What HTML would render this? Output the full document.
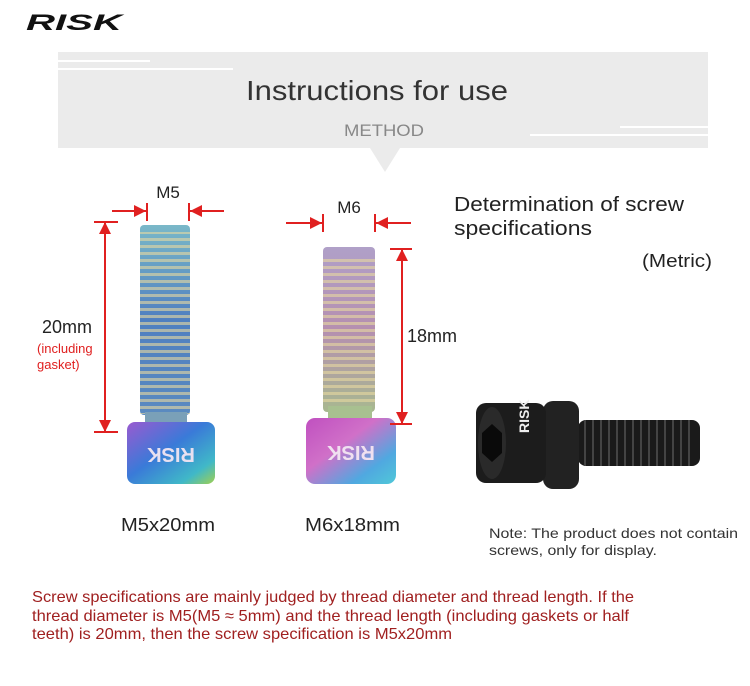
<!DOCTYPE html>
<html><head><meta charset="utf-8"><style>
body{margin:0;background:#fff;}
svg{display:block;font-family:"Liberation Sans",sans-serif;}
</style></head><body>
<svg width="750" height="686" viewBox="0 0 750 686" xmlns="http://www.w3.org/2000/svg">
<defs>
<linearGradient id="thr" x1="0" y1="0" x2="0" y2="1">
<stop offset="0" stop-color="#7ab8c8"/><stop offset="0.5" stop-color="#4f7fc0"/><stop offset="1" stop-color="#5a8ac0"/>
</linearGradient>
<linearGradient id="thr2" x1="0" y1="0" x2="0" y2="1">
<stop offset="0" stop-color="#b0a0c8"/><stop offset="0.5" stop-color="#b58fb0"/><stop offset="1" stop-color="#a8b890"/>
</linearGradient>
<linearGradient id="hd1" x1="0" y1="0" x2="1" y2="1">
<stop offset="0" stop-color="#9a5ad0"/><stop offset="0.45" stop-color="#3a7ad8"/><stop offset="0.8" stop-color="#40b8c8"/><stop offset="1" stop-color="#a0d050"/>
</linearGradient>
<linearGradient id="hd2" x1="0" y1="0" x2="1" y2="1">
<stop offset="0" stop-color="#c050c0"/><stop offset="0.4" stop-color="#d070c8"/><stop offset="0.75" stop-color="#50a8e0"/><stop offset="1" stop-color="#50c8d8"/>
</linearGradient>
<pattern id="ln" width="6" height="7" patternUnits="userSpaceOnUse"><rect width="6" height="3" fill="#e8d8a0" opacity="0.6"/></pattern>
<marker id="ar" viewBox="0 0 10 10" refX="10" refY="5" markerWidth="6" markerHeight="6" orient="auto-start-reverse"><path d="M0,0L10,5L0,10z" fill="#e02020"/></marker>
</defs>
<!-- logo -->
<text x="26" y="30" font-size="22" font-weight="bold" font-style="italic" fill="#111" textLength="96" lengthAdjust="spacingAndGlyphs">RISK</text>
<!-- banner -->
<rect x="58" y="52" width="650" height="96" fill="#ebebeb"/>
<rect x="58" y="60" width="92" height="2" fill="#fff"/>
<rect x="58" y="68" width="175" height="2" fill="#fff"/>
<rect x="620" y="126" width="88" height="2" fill="#fff"/>
<rect x="530" y="134" width="178" height="2" fill="#fff"/>
<path d="M370,148 L400,148 L385,172 Z" fill="#ebebeb"/>
<text x="246" y="100" font-size="28" fill="#333" textLength="262" lengthAdjust="spacingAndGlyphs">Instructions for use</text>
<text x="344" y="136" font-size="17" fill="#888" textLength="80" lengthAdjust="spacingAndGlyphs">METHOD</text>
<!-- M5 screw -->
<rect x="140" y="225" width="50" height="190" rx="4" fill="url(#thr)"/>
<rect x="140" y="232" width="50" height="182" fill="url(#ln)"/>
<rect x="145" y="412" width="42" height="12" fill="#7aa0b8"/>
<rect x="127" y="422" width="88" height="62" rx="8" fill="url(#hd1)"/>
<text x="171" y="462" font-size="20" font-weight="bold" fill="#e8e0f0" text-anchor="middle" transform="rotate(180 171 455)">RISK</text>
<!-- M6 screw -->
<rect x="323" y="247" width="52" height="165" rx="4" fill="url(#thr2)"/>
<rect x="323" y="255" width="52" height="150" fill="url(#ln)"/>
<rect x="328" y="406" width="44" height="14" fill="#a8c090"/>
<rect x="306" y="418" width="90" height="66" rx="9" fill="url(#hd2)"/>
<text x="351" y="460" font-size="20" font-weight="bold" fill="#f0e0f0" text-anchor="middle" transform="rotate(180 351 453)">RISK</text>
<!-- dims -->
<g stroke="#e02020" stroke-width="2" fill="none">
<line x1="112" y1="211" x2="146" y2="211" marker-end="url(#ar)"/>
<line x1="224" y1="211" x2="190" y2="211" marker-end="url(#ar)"/>
<line x1="147" y1="203" x2="147" y2="221"/><line x1="189" y1="203" x2="189" y2="221"/>
<line x1="94" y1="222" x2="118" y2="222"/><line x1="94" y1="432" x2="118" y2="432"/>
<line x1="105" y1="222" x2="105" y2="432" marker-start="url(#ar)" marker-end="url(#ar)"/>
<line x1="286" y1="223" x2="322" y2="223" marker-end="url(#ar)"/>
<line x1="411" y1="223" x2="376" y2="223" marker-end="url(#ar)"/>
<line x1="323" y1="214" x2="323" y2="232"/><line x1="375" y1="214" x2="375" y2="232"/>
<line x1="390" y1="249" x2="412" y2="249"/><line x1="390" y1="424" x2="412" y2="424"/>
<line x1="402" y1="249" x2="402" y2="424" marker-start="url(#ar)" marker-end="url(#ar)"/>
</g>
<text x="168" y="198" font-size="17" fill="#222" text-anchor="middle">M5</text>
<text x="349" y="213" font-size="17" fill="#222" text-anchor="middle">M6</text>
<text x="42" y="333" font-size="18" fill="#222">20mm</text>
<text x="37" y="353" font-size="13" fill="#e02020">(including</text>
<text x="37" y="369" font-size="13" fill="#e02020">gasket)</text>
<text x="407" y="342" font-size="18" fill="#222">18mm</text>
<text x="121" y="531" font-size="18" fill="#222" textLength="94" lengthAdjust="spacingAndGlyphs">M5x20mm</text>
<text x="305" y="531" font-size="18" fill="#222" textLength="95" lengthAdjust="spacingAndGlyphs">M6x18mm</text>
<!-- right text -->
<text x="454" y="211" font-size="20" fill="#222" textLength="230" lengthAdjust="spacingAndGlyphs">Determination of screw</text>
<text x="454" y="235" font-size="20" fill="#222" textLength="138" lengthAdjust="spacingAndGlyphs">specifications</text>
<text x="642" y="267" font-size="18" fill="#222" textLength="70" lengthAdjust="spacingAndGlyphs">(Metric)</text>
<!-- black screw -->
<rect x="578" y="420" width="122" height="46" rx="8" fill="#1a1a1a"/>
<g stroke="#444" stroke-width="2">
<line x1="585" y1="420" x2="585" y2="466"/><line x1="593" y1="420" x2="593" y2="466"/><line x1="601" y1="420" x2="601" y2="466"/><line x1="609" y1="420" x2="609" y2="466"/><line x1="617" y1="420" x2="617" y2="466"/><line x1="625" y1="420" x2="625" y2="466"/><line x1="633" y1="420" x2="633" y2="466"/><line x1="641" y1="420" x2="641" y2="466"/><line x1="649" y1="420" x2="649" y2="466"/><line x1="657" y1="420" x2="657" y2="466"/><line x1="665" y1="420" x2="665" y2="466"/><line x1="673" y1="420" x2="673" y2="466"/><line x1="681" y1="420" x2="681" y2="466"/><line x1="689" y1="420" x2="689" y2="466"/>
</g>
<rect x="543" y="401" width="36" height="88" rx="10" fill="#222"/>
<rect x="476" y="403" width="70" height="80" rx="10" fill="#1c1c1c"/>
<ellipse cx="492" cy="443" rx="14" ry="36" fill="#2a2a2a"/>
<polygon points="492,424 502,433 502,453 492,462 482,453 482,433" fill="#0a0a0a"/>
<text x="522" y="440" font-size="14" font-weight="bold" fill="#eee" transform="rotate(-90 522 433)">RISK</text>
<text x="489" y="538" font-size="14" fill="#333" textLength="249" lengthAdjust="spacingAndGlyphs">Note: The product does not contain</text>
<text x="489" y="555" font-size="14" fill="#333" textLength="168" lengthAdjust="spacingAndGlyphs">screws, only for display.</text>
<!-- bottom text -->
<g font-size="16" fill="#a02020">
<text x="32" y="602" textLength="602" lengthAdjust="spacingAndGlyphs">Screw specifications are mainly judged by thread diameter and thread length. If the</text>
<text x="32" y="621" textLength="597" lengthAdjust="spacingAndGlyphs">thread diameter is M5(M5 ≈ 5mm) and the thread length (including gaskets or half</text>
<text x="32" y="639" textLength="420" lengthAdjust="spacingAndGlyphs">teeth) is 20mm, then the screw specification is M5x20mm</text>
</g>
</svg>
</body></html>
